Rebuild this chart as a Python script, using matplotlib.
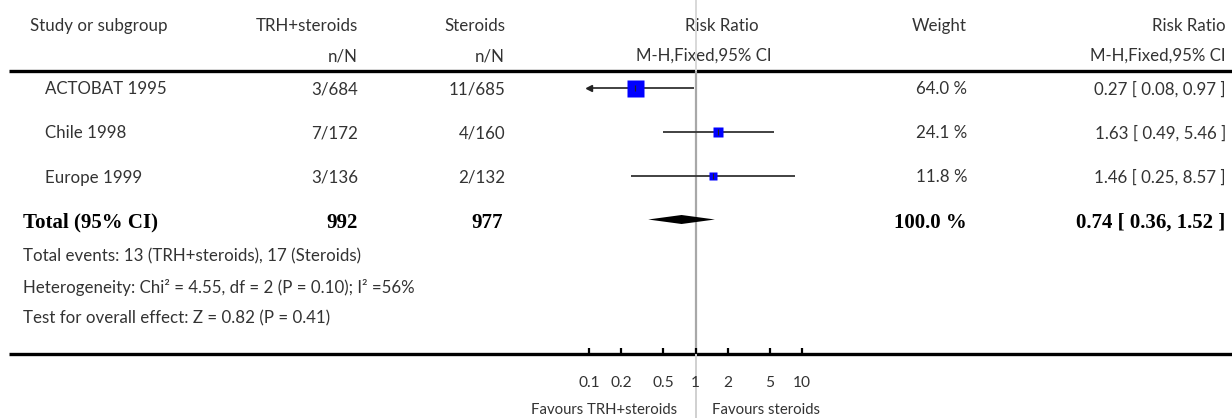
import numpy as np
import matplotlib
matplotlib.use('Agg')
import matplotlib.pyplot as plt
import matplotlib.transforms as mtransforms

###############################################################################
# Data

studies = ['ACTOBAT 1995', 'Chile 1998', 'Europe 1999']
trh_events = [3, 7, 3]
trh_total = [684, 172, 136]
ster_events = [11, 4, 2]
ster_total = [685, 160, 132]
weights = [64.0, 24.1, 11.8]
rr = [0.27, 1.63, 1.46]
rr_lo = [0.08, 0.49, 0.25]
rr_hi = [0.97, 5.46, 8.57]

pooled_rr = 0.74
pooled_lo = 0.36
pooled_hi = 1.52
pooled_weight = 100.0

heterogeneity = 'Heterogeneity: Chi² = 4.55, df = 2 (P = 0.10); I² =56%'
overall_test = 'Test for overall effect: Z = 0.82 (P = 0.41)'

ticks = [0.1, 0.2, 0.5, 1, 2, 5, 10]
tick_labels = ['0.1', '0.2', '0.5', '1', '2', '5', '10']
x_min, x_max = 0.1, 10

###############################################################################
# Figure setup

W, H = 1232, 418
fig = plt.figure(figsize=(W / 100, H / 100), dpi=100)

sans = 'Lato'
serif = 'Liberation Serif'
txt_col = '#333333'
fs = 12.2
fs_bold = 15

# background canvas in pixel units for the table text and rules
bg = fig.add_axes([0, 0, 1, 1])
bg.set_xlim(0, W)
bg.set_ylim(H, 0)
bg.axis('off')

# forest plot axes
px_left, px_right = 589, 802
px_top, px_bot = 71, 354
row0, row_step = 87.5, 44.0
ax = fig.add_axes([px_left / W, 1 - px_bot / H,
                   (px_right - px_left) / W, (px_bot - px_top) / H])
ax.set_xscale('log')
ax.set_xlim(x_min, x_max)
ax.set_ylim((px_bot - row0) / row_step, (px_top - row0) / row_step)
for s in ax.spines.values():
    s.set_visible(False)
ax.patch.set_alpha(0)
ax.set_yticks([])
ax.set_xticks(ticks)
ax.set_xticklabels(tick_labels, fontname=sans, fontsize=fs - 1, color=txt_col)
ax.xaxis.set_minor_locator(matplotlib.ticker.NullLocator())
ax.tick_params(axis='x', direction='in', length=4.5, width=1.6, pad=16, color='black')

# horizontal rules
bg.plot([9, W], [px_top, px_top], color='black', lw=2.4, solid_capstyle='butt')
bg.plot([9, W], [px_bot, px_bot], color='black', lw=2.4, solid_capstyle='butt')

# line of no effect, running through the full figure height
h_ax = px_bot - px_top
ax.axvline(1, ymin=1, ymax=1 + px_top / h_ax, color='#d8d8d8', lw=1.4, clip_on=False, zorder=0)
ax.axvline(1, ymin=0, ymax=1, color='#a8a8a8', lw=1.6, zorder=0)
ax.axvline(1, ymin=-(H - px_bot) / h_ax, ymax=0, color='#d0d0d0', lw=1.4, clip_on=False, zorder=0)

###############################################################################
# Header

def t(x, y, s, ha='left', bold=False, **kw):
    if bold:
        bg.text(x, y, s, ha=ha, va='center', fontname=serif, fontweight='bold',
                fontsize=fs_bold, color='black', **kw)
    else:
        bg.text(x, y, s, ha=ha, va='center', fontname=sans, fontsize=fs, color=txt_col, **kw)

hy1, hy2 = 26, 56
t(30, hy1, 'Study or subgroup')
t(358, hy1, 'TRH+steroids', ha='right')
t(358, hy2, 'n/N', ha='right')
t(505, hy1, 'Steroids', ha='right')
t(505, hy2, 'n/N', ha='right')
t(722, hy1, 'Risk Ratio', ha='center')
t(704, hy2, 'M-H,Fixed,95% CI', ha='center')
t(967, hy1, 'Weight', ha='right')
t(1226, hy1, 'Risk Ratio', ha='right')
t(1226, hy2, 'M-H,Fixed,95% CI', ha='right')

###############################################################################
# Study rows

sq_max = 17 * 0.72  # marker side in points for the largest weight
for i, name in enumerate(studies):
    y_px = row0 + row_step * i
    t(45, y_px + 2, name)
    t(358, y_px + 2, '%d/%d' % (trh_events[i], trh_total[i]), ha='right')
    t(505, y_px + 2, '%d/%d' % (ster_events[i], ster_total[i]), ha='right')
    t(967, y_px + 2, '%.1f %%' % weights[i], ha='right')
    t(1226, y_px + 2, '%.2f [ %.2f, %.2f ]' % (rr[i], rr_lo[i], rr_hi[i]), ha='right')

    lo = max(rr_lo[i], x_min)
    hi = min(rr_hi[i], x_max)
    ax.plot([lo, hi], [i, i], color='#333333', lw=1.3, solid_capstyle='butt', zorder=2)
    if rr_lo[i] < x_min:
        ax.plot([x_min], [i], marker='<', ms=4, color='#222222', clip_on=False, zorder=3)
    if rr_hi[i] > x_max:
        ax.plot([x_max], [i], marker='>', ms=4, color='#222222', clip_on=False, zorder=3)
    side = sq_max * np.sqrt(weights[i] / max(weights))
    ax.plot([rr[i]], [i], marker='s', ms=side, color='#0000ff', mec='none', zorder=3)
    ax.plot([rr[i]], [i], marker='|', ms=4, mew=0.8, color='#222222', zorder=4)

###############################################################################
# Pooled row

k = len(studies)
y_px = row0 + row_step * k
t(23, y_px + 3, 'Total (95% CI)', bold=True)
t(358, y_px + 3, '%d' % sum(trh_total), ha='right', bold=True)
t(503, y_px + 3, '%d' % sum(ster_total), ha='right', bold=True)
t(967, y_px + 3, '%.1f %%' % pooled_weight, ha='right', bold=True)
t(1225, y_px + 3, '%.2f [ %.2f, %.2f ]' % (pooled_rr, pooled_lo, pooled_hi), ha='right', bold=True)

dh = 4.5 / row_step
ax.fill([pooled_lo, pooled_rr, pooled_hi, pooled_rr],
        [k, k - dh, k, k + dh], color='black', lw=0, zorder=3)

t(23, 256, 'Total events: %d (TRH+steroids), %d (Steroids)' % (sum(trh_events), sum(ster_events)))
t(23, 287, heterogeneity)
t(23, 318, overall_test)

###############################################################################
# Favours labels under the axis

trans = mtransforms.blended_transform_factory(ax.transData, ax.transAxes)
ax.annotate('Favours TRH+steroids', xy=(1, 0), xycoords=trans, xytext=(-13, -40.5),
            textcoords='offset points', ha='right', va='center',
            fontname=sans, fontsize=fs - 1.5, color=txt_col)
ax.annotate('Favours steroids', xy=(1, 0), xycoords=trans, xytext=(12, -40.5),
            textcoords='offset points', ha='left', va='center',
            fontname=sans, fontsize=fs - 1.5, color=txt_col)

fig.savefig('out.png', dpi=100)
